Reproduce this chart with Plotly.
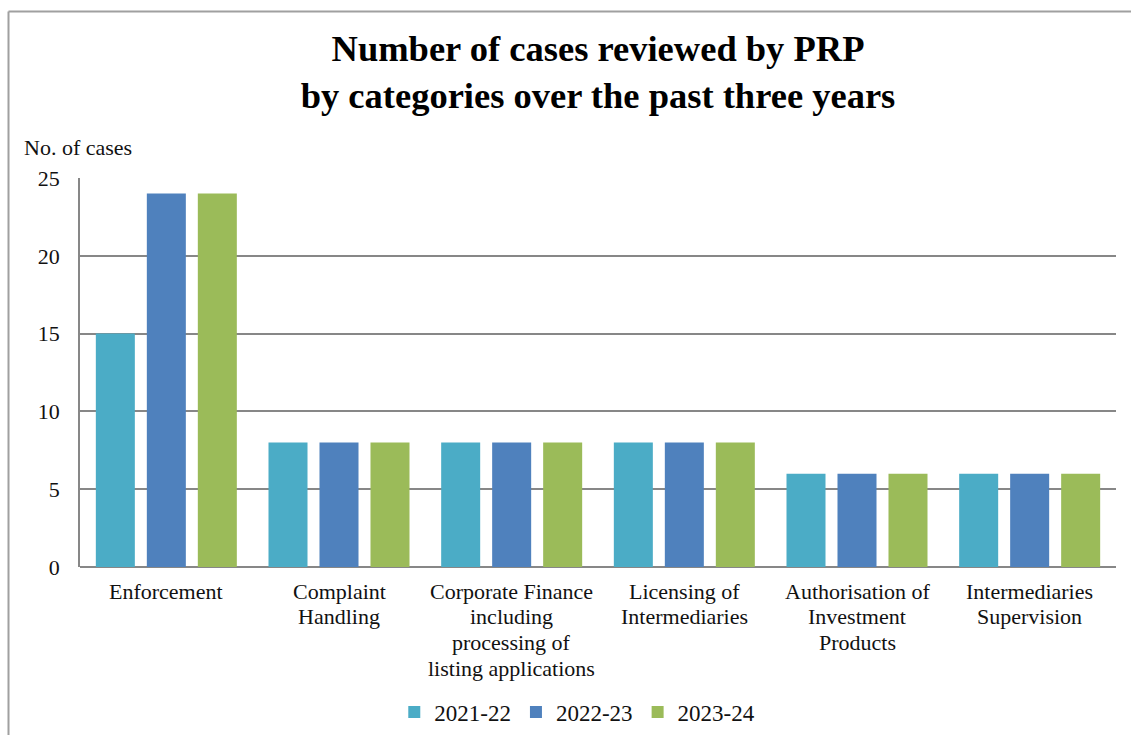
import plotly.graph_objects as go

categories = [
    "Enforcement",
    "Complaint<br>Handling",
    "Corporate Finance<br>including<br>processing of<br>listing applications",
    "Licensing of<br>Intermediaries",
    "Authorisation of<br>Investment<br>Products",
    "Intermediaries<br>Supervision",
]
series_names = ["2021-22", "2022-23", "2023-24"]
values_2021_22 = [15, 8, 8, 8, 6, 6]
values_2022_23 = [24, 8, 8, 8, 6, 6]
values_2023_24 = [24, 8, 8, 8, 6, 6]
colors = ["#4BACC6", "#4F81BD", "#9BBB59"]

font_family = "Liberation Serif, Times New Roman, serif"

fig = go.Figure()
for name, vals, c in zip(series_names, [values_2021_22, values_2022_23, values_2023_24], colors):
    fig.add_trace(go.Bar(x=categories, y=vals, name=name, marker=dict(color=c, line=dict(width=0))))

W, H = 1131, 735
ml, mr, mt, mb = 80, 15, 178, 168
pw = W - ml - mr
ph = H - mt - mb

def px_to_paper_x(px):
    return (px - ml) / pw

def px_to_paper_y(py):
    return (H - mb - py) / ph

annotations = [
    dict(text="No. of cases", xref="paper", yref="paper",
         x=px_to_paper_x(22), y=px_to_paper_y(148), xanchor="left", yanchor="middle",
         showarrow=False, font=dict(family=font_family, size=22, color="#111111")),
]
# category labels (one annotation per text line, tight line spacing like the reference)
for cat in categories:
    for i, line in enumerate(cat.split("<br>")):
        annotations.append(dict(
            text=line, xref="x", yref="y", x=cat, y=0, xanchor="center", yanchor="middle",
            yshift=-(24 + i * 25.7), showarrow=False,
            font=dict(family=font_family, size=22, color="#111111"),
        ))

fig.update_layout(
    width=W, height=H,
    margin=dict(l=ml, r=mr, t=mt, b=mb, pad=0, autoexpand=False),
    paper_bgcolor="white", plot_bgcolor="white",
    font=dict(family=font_family, size=22, color="#111111"),
    barmode="group", bargap=0.114, bargroupgap=0.235,
    title=dict(
        text="<b>Number of cases reviewed by PRP<br>by categories over the past three years</b>",
        x=0.5, xanchor="center", xref="paper", y=1 - 61 / H, yanchor="top",
        font=dict(family=font_family, size=36.5, color="#000000"),
    ),
    showlegend=True,
    legend=dict(
        orientation="h", x=0.48, xanchor="center", y=px_to_paper_y(712), yanchor="middle",
        font=dict(family=font_family, size=23, color="#111111"),
        traceorder="normal",
    ),
    xaxis=dict(
        showgrid=False, showline=False, ticks="", showticklabels=False,
    ),
    yaxis=dict(
        range=[0, 25], dtick=5, tick0=0,
        showgrid=True, gridcolor="#878787", gridwidth=1.5,
        showline=True, linecolor="#878787", linewidth=1.5,
        zeroline=True, zerolinecolor="#878787", zerolinewidth=1.5,
        ticks="", ticklabelstandoff=14,
        tickfont=dict(family=font_family, size=22, color="#111111"),
    ),
    annotations=annotations,
    shapes=[
        dict(type="line", xref="paper", yref="paper",
             x0=px_to_paper_x(8.5), x1=px_to_paper_x(1135), y0=px_to_paper_y(11.5), y1=px_to_paper_y(11.5),
             line=dict(color="#A0A0A0", width=2)),
        dict(type="line", xref="paper", yref="paper",
             x0=px_to_paper_x(8.5), x1=px_to_paper_x(8.5), y0=px_to_paper_y(11.5), y1=px_to_paper_y(740),
             line=dict(color="#A0A0A0", width=2)),
    ],
)

fig.write_html("out.html", config={"displayModeBar": False},
               post_script="document.body.style.margin='0';document.body.style.overflow='hidden';")
